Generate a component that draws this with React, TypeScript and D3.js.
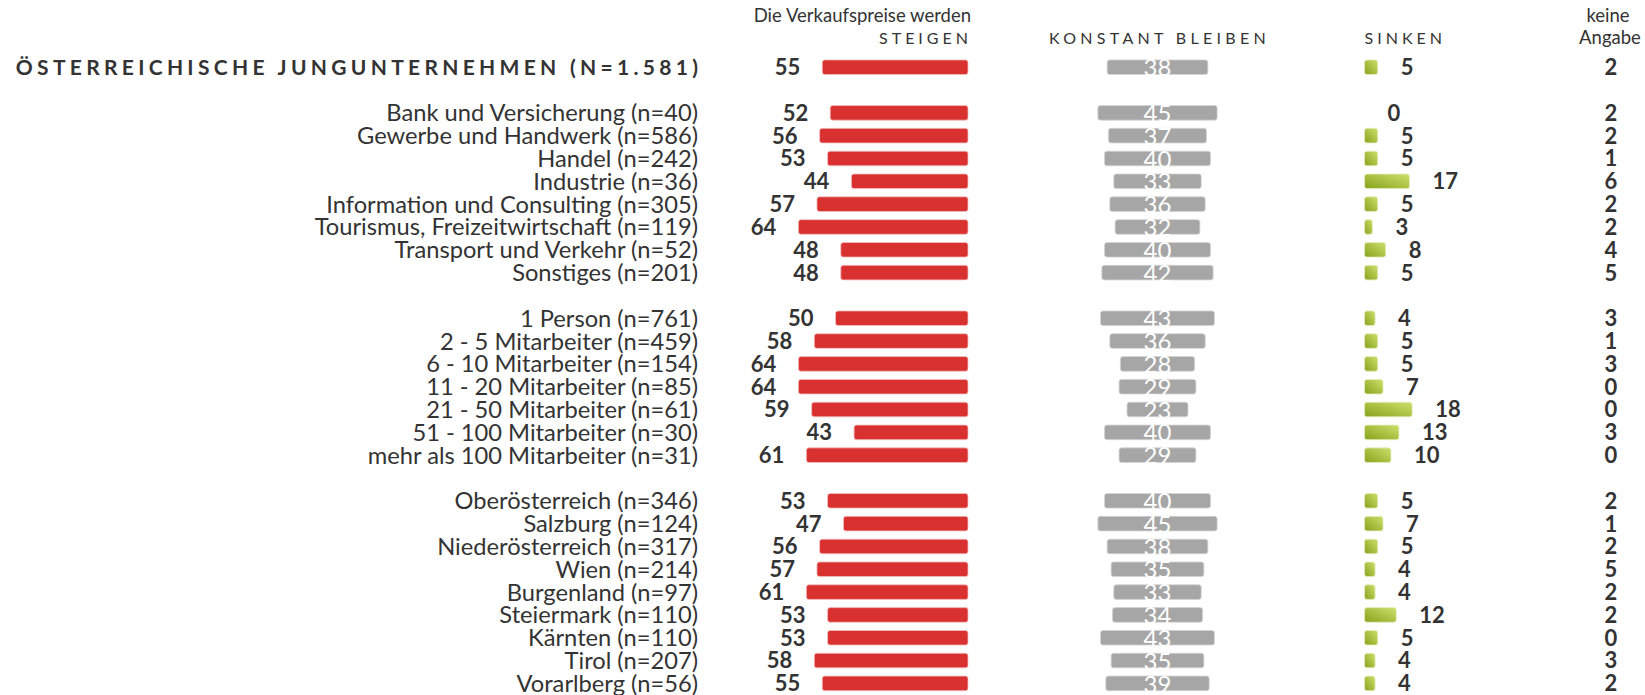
import React, { useRef, useEffect } from "react";
import * as d3 from "d3";

const categories = [
  "Österreichische Jungunternehmen (N=1.581)",
  "Bank und Versicherung (n=40)",
  "Gewerbe und Handwerk (n=586)",
  "Handel (n=242)",
  "Industrie (n=36)",
  "Information und Consulting (n=305)",
  "Tourismus, Freizeitwirtschaft (n=119)",
  "Transport und Verkehr (n=52)",
  "Sonstiges (n=201)",
  "1 Person (n=761)",
  "2 - 5 Mitarbeiter (n=459)",
  "6 - 10 Mitarbeiter (n=154)",
  "11 - 20 Mitarbeiter (n=85)",
  "21 - 50 Mitarbeiter (n=61)",
  "51 - 100 Mitarbeiter (n=30)",
  "mehr als 100 Mitarbeiter (n=31)",
  "Oberösterreich (n=346)",
  "Salzburg (n=124)",
  "Niederösterreich (n=317)",
  "Wien (n=214)",
  "Burgenland (n=97)",
  "Steiermark (n=110)",
  "Kärnten (n=110)",
  "Tirol (n=207)",
  "Vorarlberg (n=56)",
];

// block each row belongs to (a blank row sits between blocks)
const groups = [0, 1, 1, 1, 1, 1, 1, 1, 1, 2, 2, 2, 2, 2, 2, 2, 3, 3, 3, 3, 3, 3, 3, 3, 3];

const steigen = [55, 52, 56, 53, 44, 57, 64, 48, 48, 50, 58, 64, 64, 59, 43, 61, 53, 47, 56, 57, 61, 53, 53, 58, 55];
const konstant = [38, 45, 37, 40, 33, 36, 32, 40, 42, 43, 36, 28, 29, 23, 40, 29, 40, 45, 38, 35, 33, 34, 43, 35, 39];
const sinken = [5, 0, 5, 5, 17, 5, 3, 8, 5, 4, 5, 5, 7, 18, 13, 10, 5, 7, 5, 4, 4, 12, 5, 4, 4];
const keineAngabe = [2, 2, 2, 1, 6, 2, 2, 4, 5, 3, 1, 3, 0, 0, 3, 0, 2, 1, 2, 5, 2, 2, 0, 3, 2];

const W = 1645;
const H = 695;

const App = () => {
  const ref = useRef<SVGSVGElement>(null);

  useEffect(() => {
    document.body.style.margin = "0";
    document.body.style.overflow = "hidden";

    const svg = d3.select(ref.current);
    svg.selectAll("*").remove();

    const font = "Lato, 'Noto Sans', sans-serif";
    const ink = "#333333";

    // column anchors
    const labelRight = 698;
    const steigenRight = 968;
    const konstantMid = 1157.5;
    const sinkenLeft = 1364.5;
    const keineMid = 1611;

    const nSlots = categories.length + d3.max(groups)!;
    const y = d3
      .scaleBand<number>()
      .domain(d3.range(nSlots))
      .range([55.8, 694.8])
      .paddingInner(0.36)
      .paddingOuter(0.18);

    const x = d3.scaleLinear().domain([0, 100]).range([0, 265]);

    const rows = categories.map((c, i) => ({
      c,
      i,
      slot: i + groups[i],
      s: steigen[i],
      k: konstant[i],
      n: sinken[i],
      a: keineAngabe[i],
    }));
    const cy = (d) => y(d.slot)! + y.bandwidth() / 2;

    // gradient for "sinken"
    const defs = svg.append("defs");
    const grad = defs
      .append("linearGradient")
      .attr("id", "greenGrad")
      .attr("x1", 0)
      .attr("y1", 1)
      .attr("x2", 1)
      .attr("y2", 0);
    grad.append("stop").attr("offset", "0%").attr("stop-color", "#87a31c");
    grad.append("stop").attr("offset", "100%").attr("stop-color", "#cde06c");

    // header
    const head = svg.append("g").attr("font-family", font).attr("fill", ink);
    head
      .append("text")
      .attr("x", steigenRight + 3)
      .attr("y", 22)
      .attr("text-anchor", "end")
      .attr("font-size", 18.5)
      .text("Die Verkaufspreise werden");
    const caps = [
      { t: "STEIGEN", x: steigenRight + 4, a: "end" },
      { t: "KONSTANT BLEIBEN", x: konstantMid + 2, a: "middle" },
      { t: "SINKEN", x: sinkenLeft, a: "start" },
    ];
    head
      .selectAll("text.cap")
      .data(caps)
      .join("text")
      .attr("class", "cap")
      .attr("x", (d) => d.x)
      .attr("y", 44)
      .attr("text-anchor", (d) => d.a)
      .attr("font-size", 16)
      .attr("letter-spacing", (d) => (d.t.length > 10 ? 4.3 : 4))
      .text((d) => d.t);
    head
      .append("text")
      .attr("x", keineMid - 3)
      .attr("y", 22)
      .attr("text-anchor", "middle")
      .attr("font-size", 18.5)
      .text("keine");
    head
      .append("text")
      .attr("x", keineMid - 1)
      .attr("y", 44)
      .attr("text-anchor", "middle")
      .attr("font-size", 18.5)
      .text("Angabe");

    const g = svg.append("g").attr("font-family", font);

    // category labels
    g.selectAll("text.cat")
      .data(rows)
      .join("text")
      .attr("class", "cat")
      .attr("x", (d) => (d.i === 0 ? labelRight + 4.3 : labelRight))
      .attr("y", cy)
      .attr("dy", "0.36em")
      .attr("text-anchor", "end")
      .attr("fill", ink)
      .attr("font-size", (d) => (d.i === 0 ? 21 : 23.7))
      .attr("font-weight", (d) => (d.i === 0 ? 700 : 400))
      .attr("letter-spacing", (d) => (d.i === 0 ? 4.3 : 0))
      .text((d) => (d.i === 0 ? d.c.toUpperCase() : d.c));

    const barH = y.bandwidth();

    // steigen
    g.selectAll("rect.st")
      .data(rows)
      .join("rect")
      .attr("class", "st")
      .attr("x", (d) => steigenRight - x(d.s))
      .attr("y", (d) => y(d.slot)!)
      .attr("width", (d) => x(d.s))
      .attr("height", barH)
      .attr("rx", 2.5)
      .attr("fill", "#d93030")
      .attr("stroke", "#f3c0c0")
      .attr("stroke-width", 0.8);
    g.selectAll("text.stv")
      .data(rows)
      .join("text")
      .attr("class", "stv")
      .attr("x", (d) => steigenRight - x(d.s) - 22)
      .attr("y", cy)
      .attr("dy", "0.36em")
      .attr("text-anchor", "end")
      .attr("font-size", 22)
      .attr("font-weight", 700)
      .attr("fill", ink)
      .text((d) => d.s);

    // konstant bleiben
    g.selectAll("rect.ko")
      .data(rows)
      .join("rect")
      .attr("class", "ko")
      .attr("x", (d) => konstantMid - x(d.k) / 2)
      .attr("y", (d) => y(d.slot)!)
      .attr("width", (d) => x(d.k))
      .attr("height", barH)
      .attr("rx", 2.5)
      .attr("fill", "#a6a6a6")
      .attr("stroke", "#d4d4d4")
      .attr("stroke-width", 0.8);
    g.selectAll("text.kov")
      .data(rows)
      .join("text")
      .attr("class", "kov")
      .attr("x", konstantMid)
      .attr("y", cy)
      .attr("dy", "0.38em")
      .attr("text-anchor", "middle")
      .attr("font-size", 24)
      .attr("fill", "#ffffff")
      .text((d) => d.k);

    // sinken
    g.selectAll("rect.si")
      .data(rows.filter((d) => d.n > 0))
      .join("rect")
      .attr("class", "si")
      .attr("x", sinkenLeft)
      .attr("y", (d) => y(d.slot)!)
      .attr("width", (d) => x(d.n))
      .attr("height", barH)
      .attr("rx", 2.5)
      .attr("fill", "url(#greenGrad)")
      .attr("stroke", "#e6efc2")
      .attr("stroke-width", 0.8);
    g.selectAll("text.siv")
      .data(rows)
      .join("text")
      .attr("class", "siv")
      .attr("x", (d) => sinkenLeft + x(d.n) + 23)
      .attr("y", cy)
      .attr("dy", "0.36em")
      .attr("text-anchor", "start")
      .attr("font-size", 22)
      .attr("font-weight", 700)
      .attr("fill", ink)
      .text((d) => d.n);

    // keine Angabe
    g.selectAll("text.ka")
      .data(rows)
      .join("text")
      .attr("class", "ka")
      .attr("x", keineMid)
      .attr("y", cy)
      .attr("dy", "0.36em")
      .attr("text-anchor", "middle")
      .attr("font-size", 22)
      .attr("font-weight", 700)
      .attr("fill", ink)
      .text((d) => d.a);
  }, []);

  return (
    <svg
      ref={ref}
      width={W}
      height={H}
      style={{ position: "absolute", left: 0, top: 0, display: "block" }}
    ></svg>
  );
};

export default App;
